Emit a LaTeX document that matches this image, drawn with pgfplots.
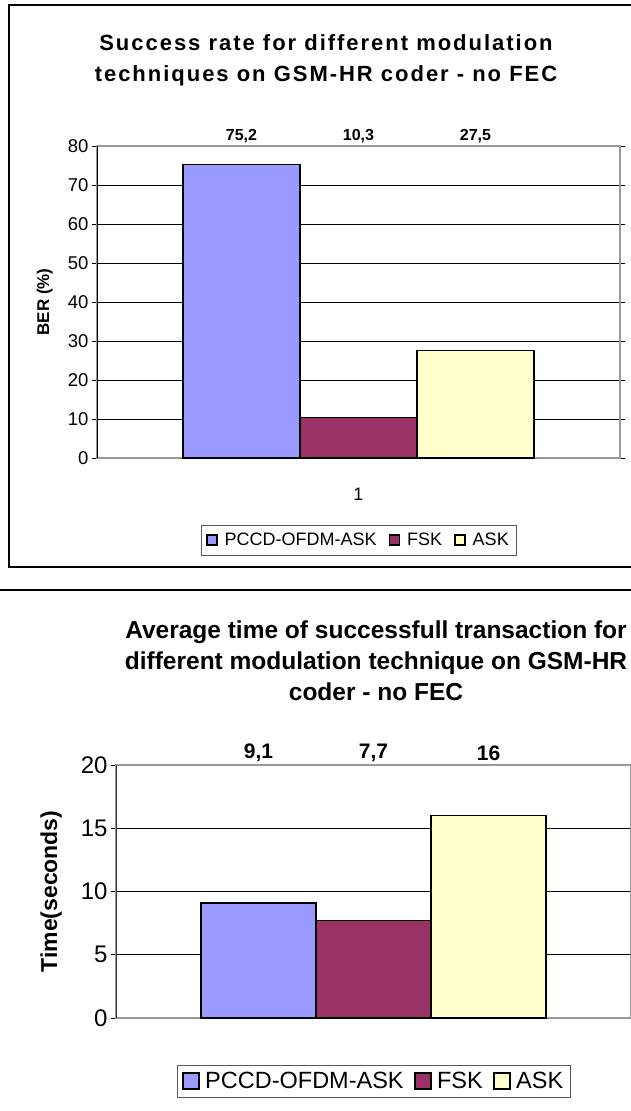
\documentclass[border=0pt]{standalone}
\usepackage{fontspec}
\setmainfont{Liberation Sans}
\newfontfamily\titlefont[LetterSpace=9]{Liberation Sans}
\usepackage{pgfplots}
\pgfplotsset{compat=1.18}
\definecolor{pccd}{HTML}{9999FF}
\definecolor{fsk}{HTML}{993366}
\definecolor{ask}{HTML}{FFFFCC}

\pgfplotsset{
  excelbars/.style={
    scale only axis,
    ybar=0pt,
    xmin=0, xmax=2, ymin=0,
    ymajorgrids,
    grid style={black, line width=0.7pt},
    axis line style={gray!80, line width=1.2pt},
    tick style={black, line width=0.8pt},
    tick align=outside,
    major tick length=5pt,
    xtick style={draw=none},
    /pgf/number format/assume math mode=true,
    /pgf/number format/use comma,
    legend columns=3,
    legend cell align=left,
    visualization depends on=y \as \rawy,
    nodes near coords,
  },
  sq/.style={legend image code/.code={\draw[##1, line width=#1*0.15pt] (0pt,-#1*0.5pt) rectangle (#1*1pt,#1*0.5pt);}},
}

\begin{document}
\begin{tikzpicture}
\useasboundingbox (0,0) rectangle (631pt,-1111pt);

% frames
\draw[line width=1.3pt] (660pt,-5pt) -| (9pt,-567pt) -- (660pt,-567pt);
\draw[line width=1.3pt] (-5pt,-590pt) -- (660pt,-590pt);

% titles
\node[align=center, font=\titlefont\fontsize{22}{31}\selectfont\bfseries] at (326pt,-60pt)
  {Success rate for different modulation\\techniques on GSM-HR coder - no FEC};
\node[align=center, font=\fontsize{24.5}{31}\selectfont\bfseries] at (376pt,-661pt)
  {Average time of successfull transaction for\\different modulation technique on GSM-HR\\coder - no FEC};

% top chart
\begin{axis}[excelbars,
  at={(97pt,-458pt)}, anchor=south west,
  width=523pt, height=312pt,
  bar width=117pt,
  ymax=80, ytick={0,10,...,80},
  xtick={1}, xticklabels={1},
  xticklabel style={yshift=-22pt, font=\fontsize{18}{18}\selectfont},
  yticklabel style={font=\fontsize{18.5}{18}\selectfont},
  ylabel={BER (\%)},
  ylabel style={font=\fontsize{17}{17}\selectfont\bfseries, at={(rel axis cs:-0.1,0.5)}, anchor=center},
  every node near coord/.append style={font=\fontsize{16}{16}\selectfont\bfseries,
    anchor=center, shift={(axis direction cs:0,-\rawy)}, yshift=322pt},
  sq=10,
  legend style={at={(0.5,0)}, anchor=center, yshift=-82pt, draw=gray!70!black,
    font=\fontsize{18}{18}\selectfont, inner xsep=5pt, inner ysep=6pt,
    /tikz/every odd column/.append style={column sep=5pt},
    /tikz/every even column/.append style={column sep=10pt}},
]
\addplot[fill=pccd, draw=black, line width=1.3pt] coordinates {(1,75.2)};
\addplot[fill=fsk, draw=black, line width=1.3pt] coordinates {(1,10.3)};
\addplot[fill=ask, draw=black, line width=1.3pt] coordinates {(1,27.5)};
\draw[black, line width=1.2pt] (rel axis cs:0,0) -- (rel axis cs:0,1);
\legend{PCCD-OFDM-ASK, FSK, ASK}
\end{axis}

% bottom chart
\begin{axis}[excelbars,
  at={(116pt,-1018pt)}, anchor=south west,
  width=515pt, height=253pt,
  bar width=115pt,
  ymax=20, ytick={0,5,...,20},
  xtick=\empty,
  yticklabel style={font=\fontsize{24}{24}\selectfont},
  ylabel={Time(seconds)},
  ylabel style={font=\fontsize{23}{23}\selectfont\bfseries, at={(rel axis cs:-0.126,0.5)}, anchor=center},
  every node near coord/.append style={font=\fontsize{21}{21}\selectfont\bfseries,
    anchor=center, shift={(axis direction cs:0,-\rawy)}, yshift=265pt},
  sq=16,
  legend style={at={(0.5,0)}, anchor=center, yshift=-63pt, draw=gray!70!black,
    font=\fontsize{23.5}{23.5}\selectfont, inner xsep=5pt, inner ysep=5pt,
    /tikz/every odd column/.append style={column sep=3pt},
    /tikz/every even column/.append style={column sep=8pt}},
]
\addplot[fill=pccd, draw=black, line width=1.5pt] coordinates {(1,9.1)};
\addplot[fill=fsk, draw=black, line width=1.5pt] coordinates {(1,7.7)};
\addplot[fill=ask, draw=black, line width=1.5pt] coordinates {(1,16)};
\draw[black!80, line width=1.2pt] (rel axis cs:0,0) -- (rel axis cs:0,1);
\legend{PCCD-OFDM-ASK, FSK, ASK}
\end{axis}
\end{tikzpicture}
\end{document}
